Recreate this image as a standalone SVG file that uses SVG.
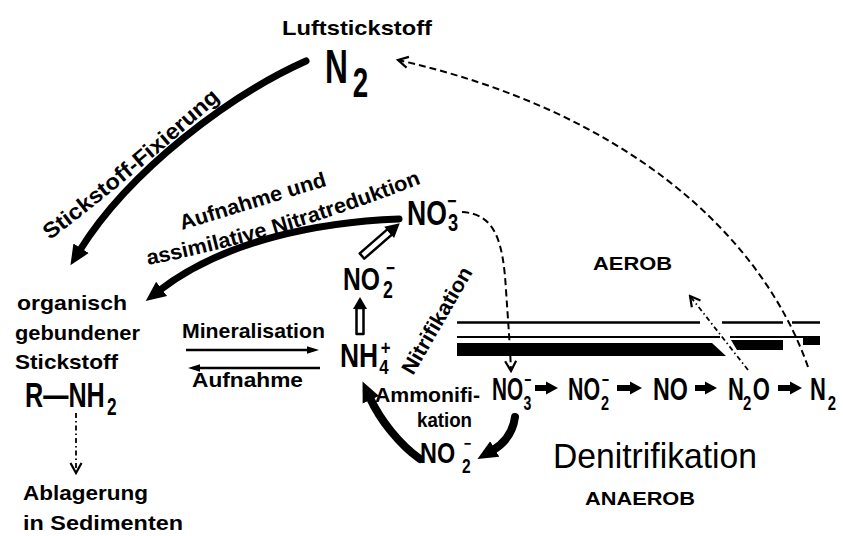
<svg xmlns="http://www.w3.org/2000/svg" width="843" height="536" viewBox="0 0 843 536">
<style>
.lbl{font-family:"Liberation Sans",Arial,sans-serif;font-weight:bold;font-size:21px;fill:#000}
.chem{font-family:"Liberation Sans",Arial,sans-serif;font-weight:bold;fill:#000}
.thick{fill:none;stroke:#000;stroke-width:7;stroke-linecap:round}
.thin{fill:none;stroke:#000;stroke-width:2.5}
.fat{fill:none;stroke:#000;stroke-width:6}
.dash{fill:none;stroke:#000;stroke-width:2;stroke-dasharray:7 4}
.dashdot{fill:none;stroke:#000;stroke-width:1.8;stroke-dasharray:5 3 1.5 3}
.hollow{fill:#fff;stroke:#000;stroke-width:2.5;stroke-linejoin:round}
.band{fill:#000}
</style>
<defs>
<marker id="bigHead" markerUnits="userSpaceOnUse" markerWidth="22" markerHeight="22" viewBox="0 -10 22 20" refX="2" refY="0" orient="auto"><path d="M0,-9 L20,0 L0,9 z" fill="#000"/></marker>
<marker id="fatHead" markerUnits="userSpaceOnUse" markerWidth="14" markerHeight="16" viewBox="0 -8 14 16" refX="1" refY="0" orient="auto"><path d="M0,-6.5 L12,0 L0,6.5 z" fill="#000"/></marker>
<marker id="openHead" markerUnits="userSpaceOnUse" markerWidth="14" markerHeight="14" viewBox="-12 -7 14 14" refX="0" refY="0" orient="auto"><path d="M-10,-5.5 L0,0 L-10,5.5" fill="none" stroke="#000" stroke-width="2.2"/></marker>
<marker id="smallHead" markerUnits="userSpaceOnUse" markerWidth="14" markerHeight="10" viewBox="0 -5 14 10" refX="1" refY="0" orient="auto"><path d="M0,-3.8 L12,0 L0,3.8 z" fill="#000"/></marker>
<path id="tpFix" d="M50,240 Q130,180 228,92"/>
<path id="tpAssim" d="M148,265 Q285,238 430,180"/>
</defs>

<!-- aerobic / anaerobic interface -->
<g id="interface">
<path class="thin" d="M457,322.5 H700 M722,322.5 H783 M792,322.5 H820"/>
<path fill="none" stroke="#000" stroke-width="2" d="M457,337 H720 M730,337 H820"/>
<polygon class="band" points="457,343 712,343 726,356 457,356"/>
<polygon class="band" points="731,340 783,340 783,350 737,350"/>
<polygon class="band" points="803,337 820,337 820,345 803,345"/>
</g>

<g id="connectors">
<path class="thick" d="M306,61 C230,95 130,170 80,250" marker-end="url(#bigHead)"/>
<path class="thick" d="M399,219 C320,222 225,240 160,290" marker-end="url(#bigHead)"/>
<g transform="translate(362,256) rotate(-41)">
<path class="hollow" d="M0,-3.5 L37,-3.5 L37,3.5 L0,3.5 Z"/>
<path d="M36,-7.5 L50,0 L36,7.5 Z" fill="#000"/>
</g>
<g transform="translate(360,334) rotate(-90)">
<path class="hollow" d="M0,-3.5 L26,-3.5 L26,3.5 L0,3.5 Z"/>
<path d="M25,-7 L37,0 L25,7 Z" fill="#000"/>
</g>
<path class="thin" d="M186,350 H308" marker-end="url(#smallHead)"/>
<path class="thin" d="M320,368 H199" marker-end="url(#smallHead)"/>
<path class="thick" style="stroke-width:8" d="M515,417 C513,432 505,443 493,450" marker-end="url(#bigHead)"/>
<path class="thick" style="stroke-width:8" d="M420,459 C400,445 380,420 370,398" marker-end="url(#bigHead)"/>
<path class="fat" d="M535,388 H547" marker-end="url(#fatHead)"/>
<path class="fat" d="M617,388 H631" marker-end="url(#fatHead)"/>
<path class="fat" d="M695,388 H706" marker-end="url(#fatHead)"/>
<path class="fat" d="M778,388 H791" marker-end="url(#fatHead)"/>
<path class="dash" d="M462,212 C495,214 503,240 506,290 C508,320 510,345 511,371" marker-end="url(#openHead)"/>
<path class="dash" d="M808,367 C760,230 620,110 398,60" marker-end="url(#openHead)"/>
<path class="dashdot" d="M748,370 L690,296" marker-end="url(#openHead)"/>
<path class="dashdot" d="M76,413 V473" marker-end="url(#openHead)"/>
</g>

<g id="connector-labels">
<text class="lbl" style="font-size:22px"><textPath href="#tpFix" textLength="222" lengthAdjust="spacingAndGlyphs">Stickstoff-Fixierung</textPath></text>
<text class="lbl" transform="translate(182,230) rotate(-17)" textLength="152" lengthAdjust="spacingAndGlyphs">Aufnahme und</text>
<text class="lbl"><textPath href="#tpAssim" textLength="286" lengthAdjust="spacingAndGlyphs">assimilative Nitratreduktion</textPath></text>
<text class="lbl" transform="translate(413,376) rotate(-60)" textLength="120" lengthAdjust="spacingAndGlyphs">Nitrifikation</text>
<text class="lbl" x="182" y="338" textLength="143" lengthAdjust="spacingAndGlyphs">Mineralisation</text>
<text class="lbl" x="192" y="387" textLength="111" lengthAdjust="spacingAndGlyphs">Aufnahme</text>
<text class="lbl" x="375" y="402" textLength="105" lengthAdjust="spacingAndGlyphs">Ammonifi-</text>
<text class="lbl" x="417" y="427" textLength="55" lengthAdjust="spacingAndGlyphs">kation</text>
</g>

<g id="n2-air">
<text class="lbl" x="282" y="35" textLength="150" lengthAdjust="spacingAndGlyphs">Luftstickstoff</text>
<text class="chem" transform="translate(325,83) scale(0.66,1)"><tspan x="0" y="0" font-size="48">N</tspan><tspan x="42" y="14" font-size="42">2</tspan></text>
</g>

<g id="no3-top">
<text class="chem" transform="translate(407,225) scale(0.76,1)"><tspan x="0" y="0" font-size="35">NO</tspan><tspan x="54" y="6" font-size="24">3</tspan><tspan x="53" y="-17" font-size="21">−</tspan></text>
</g>

<g id="no2-mid">
<text class="chem" transform="translate(343,290) scale(0.77,1)"><tspan x="0" y="0" font-size="32">NO</tspan><tspan x="52" y="8" font-size="23">2</tspan><tspan x="56" y="-15" font-size="20">−</tspan></text>
</g>

<g id="nh4">
<text class="chem" transform="translate(340,367) scale(0.8,1)"><tspan x="0" y="0" font-size="33">NH</tspan><tspan x="49" y="7" font-size="21">4</tspan><tspan x="51" y="-12" font-size="21">+</tspan></text>
</g>

<g id="organic">
<text class="lbl" x="17" y="310" textLength="110" lengthAdjust="spacingAndGlyphs">organisch</text>
<text class="lbl" x="15" y="340" textLength="125" lengthAdjust="spacingAndGlyphs">gebundener</text>
<text class="lbl" x="15" y="369" textLength="103" lengthAdjust="spacingAndGlyphs">Stickstoff</text>
<text class="chem" transform="translate(25,407) scale(0.72,1)"><tspan x="0" y="0" font-size="35">R—NH</tspan><tspan x="114" y="8" font-size="24">2</tspan></text>
</g>

<g id="sediment">
<text class="lbl" x="23" y="500" textLength="125" lengthAdjust="spacingAndGlyphs">Ablagerung</text>
<text class="lbl" x="23" y="530" textLength="160" lengthAdjust="spacingAndGlyphs">in Sedimenten</text>
</g>

<g id="no2-bottom">
<text class="chem" transform="translate(420,463) scale(0.78,1)"><tspan x="0" y="0" font-size="30">NO</tspan><tspan x="54" y="10" font-size="20">2</tspan><tspan x="56" y="-14" font-size="16">−</tspan></text>
</g>

<g id="chain-no3">
<text class="chem" transform="translate(492,400) scale(0.67,1)"><tspan x="0" y="0" font-size="31">NO</tspan><tspan x="47" y="10" font-size="21">3</tspan><tspan x="48" y="-14" font-size="18">−</tspan></text>
</g>
<g id="chain-no2">
<text class="chem" transform="translate(568,400) scale(0.69,1)"><tspan x="0" y="0" font-size="31">NO</tspan><tspan x="48" y="10" font-size="21">2</tspan><tspan x="49" y="-14" font-size="18">−</tspan></text>
</g>
<g id="chain-no">
<text class="chem" transform="translate(653,400) scale(0.75,1)" font-size="31">NO</text>
</g>
<g id="chain-n2o">
<text class="chem" transform="translate(728,400) scale(0.71,1)"><tspan x="0" y="0" font-size="31">N</tspan><tspan x="21" y="10" font-size="21">2</tspan><tspan x="35" y="0" font-size="31">O</tspan></text>
</g>
<g id="chain-n2">
<text class="chem" transform="translate(810,400) scale(0.71,1)"><tspan x="0" y="0" font-size="31">N</tspan><tspan x="25" y="10" font-size="21">2</tspan></text>
</g>

<g id="zones">
<text class="lbl" x="593" y="270" style="font-size:19px" textLength="79" lengthAdjust="spacingAndGlyphs">AEROB</text>
<text class="chem" x="553" y="468" style="font-size:35px;font-weight:normal" textLength="204" lengthAdjust="spacingAndGlyphs">Denitrifikation</text>
<text class="lbl" x="585" y="505" style="font-size:19px" textLength="110" lengthAdjust="spacingAndGlyphs">ANAEROB</text>
</g>
</svg>
